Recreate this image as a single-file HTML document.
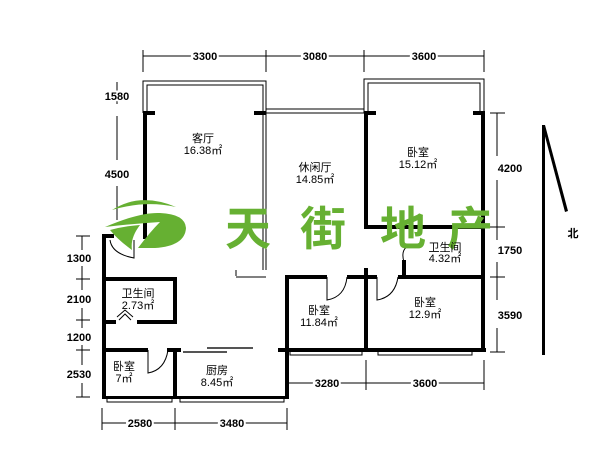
<!DOCTYPE html>
<html><head><meta charset="utf-8"><style>
html,body{margin:0;padding:0;background:#fff;width:600px;height:450px;overflow:hidden}
svg text{font-family:"Liberation Sans","Noto Sans CJK SC",sans-serif;fill:#000}
.d text{paint-order:stroke;stroke:#fff;stroke-width:4px}
</style></head><body>
<svg width="600" height="450" viewBox="0 0 600 450" xmlns="http://www.w3.org/2000/svg">
<g stroke="#000" stroke-width="1" fill="none">
<line x1="143" y1="56" x2="484" y2="56"/>
<line x1="143" y1="50" x2="143" y2="72"/><line x1="266" y1="50" x2="266" y2="72"/>
<line x1="364" y1="50" x2="364" y2="72"/><line x1="484" y1="50" x2="484" y2="72"/>
<path d="M143 113V81H266V270"/><path d="M147 113V85H263V270"/>
<path d="M364 113V79H484V113"/><path d="M368 113V83H480V113"/>
<rect x="266" y="109" width="98" height="4"/>
<line x1="117" y1="82" x2="117" y2="104"/><line x1="117" y1="116" x2="117" y2="160"/><line x1="117" y1="186" x2="117" y2="220"/>
<line x1="82" y1="236" x2="82" y2="250"/><line x1="82" y1="266" x2="82" y2="290"/><line x1="82" y1="308" x2="82" y2="328"/><line x1="82" y1="345" x2="82" y2="365"/><line x1="82" y1="383" x2="82" y2="397"/>
<line x1="76" y1="236" x2="90" y2="236"/><line x1="76" y1="279" x2="90" y2="279"/><line x1="76" y1="320" x2="90" y2="320"/><line x1="76" y1="350" x2="90" y2="350"/><line x1="76" y1="397" x2="90" y2="397"/>
<line x1="497" y1="113" x2="497" y2="156"/><line x1="497" y1="180" x2="497" y2="240"/><line x1="497" y1="262" x2="497" y2="300"/><line x1="497" y1="328" x2="497" y2="352"/>
<line x1="490" y1="113" x2="505" y2="113"/><line x1="490" y1="227" x2="505" y2="227"/><line x1="490" y1="277" x2="505" y2="277"/><line x1="490" y1="352" x2="505" y2="352"/>
<line x1="287" y1="383" x2="484" y2="383"/><line x1="366" y1="360" x2="366" y2="390"/><line x1="484" y1="360" x2="484" y2="390"/>
<line x1="102" y1="423" x2="287" y2="423"/><line x1="102" y1="408" x2="102" y2="430"/><line x1="175" y1="408" x2="175" y2="430"/><line x1="287" y1="408" x2="287" y2="430"/>
<rect x="107" y="397" width="65" height="5"/><rect x="180" y="397" width="104" height="5"/>
<rect x="290" y="350" width="72" height="5"/><rect x="378" y="350" width="94" height="5"/>
<line x1="183" y1="352" x2="227" y2="352" stroke-width="2" stroke="#555"/><line x1="207" y1="348" x2="253" y2="348" stroke-width="2" stroke="#555"/>
<path d="M148 350V373Q165 370 168 350"/><path d="M327 277V300Q345 297 347 277"/>
<path d="M377 277V300Q395 297 398 277"/><path d="M404 262Q398 242 424 244"/>
<path d="M134 240V258Q112 254 110 240"/>
<path d="M117 317L125 310L133 317M119 320L125 314L131 320"/>
<path d="M236 270V276M236 277H266"/>
</g>
<g fill="#000">
<rect x="143" y="111" width="12" height="4"/><rect x="254" y="111" width="12" height="4"/>
<rect x="143" y="111" width="4" height="128"/>
<rect x="102" y="234" width="4" height="165"/><rect x="102" y="234" width="12" height="4"/>
<rect x="102" y="277" width="75" height="4"/><rect x="173" y="277" width="4" height="46"/>
<rect x="102" y="320" width="14" height="4"/><rect x="137" y="320" width="40" height="4"/>
<rect x="102" y="348" width="46" height="4"/><rect x="167" y="348" width="14" height="4"/>
<rect x="173" y="348" width="4" height="51"/><rect x="102" y="396" width="186" height="3"/>
<rect x="285" y="277" width="4" height="122"/><rect x="285" y="275" width="42" height="4"/>
<rect x="347" y="275" width="30" height="4"/><rect x="398" y="275" width="87" height="4"/>
<rect x="278" y="348" width="208" height="4"/>
<rect x="364" y="268" width="4" height="84"/><rect x="481" y="111" width="4" height="241"/>
<rect x="364" y="111" width="4" height="118"/><rect x="364" y="111" width="12" height="4"/><rect x="473" y="111" width="12" height="4"/>
<rect x="364" y="225" width="121" height="4"/><rect x="402" y="260" width="4" height="17"/>
<rect x="542" y="125" width="3" height="230"/>
<polygon points="542,125 545,125 568,211 565,212"/>
</g>
<g fill="#66b032">
<path d="M112 210Q140 192 176 207Q145 200 112 210Z"/>
<path d="M105 227Q140 212 160 213Q185 214 186 228Q185 246 155 248L138 248Q150 232 160 222Q130 224 105 227Z"/>
<path d="M110 230Q125 226 140 225Q130 238 132 250Q118 240 110 230Z"/>
</g>
<g font-weight="bold" font-size="46" text-anchor="middle">
<text x="248" y="245" style="fill:#66b032">天</text><text x="323" y="245" style="fill:#66b032">街</text>
<text x="403" y="245" style="fill:#66b032">地</text><text x="470" y="245" style="fill:#66b032">产</text>
</g>
<g class="d" font-size="11" font-weight="bold" text-anchor="middle">
<text x="205" y="60">3300</text><text x="315" y="60">3080</text><text x="424" y="60">3600</text>
<text x="117" y="100">1580</text><text x="117" y="178">4500</text>
<text x="79" y="262">1300</text><text x="79" y="303">2100</text><text x="79" y="341">1200</text><text x="79" y="378">2530</text>
<text x="510" y="172">4200</text><text x="510" y="254">1750</text><text x="510" y="319">3590</text>
<text x="327" y="387">3280</text><text x="425" y="387">3600</text>
<text x="140" y="427">2580</text><text x="232" y="427">3480</text>
<text x="573" y="237">北</text>
</g>
<g font-size="11" text-anchor="middle">
<text x="203" y="142">客厅</text><text x="203" y="154">16.38㎡</text>
<text x="315" y="171">休闲厅</text><text x="315" y="183">14.85㎡</text>
<text x="418" y="156">卧室</text><text x="418" y="168">15.12㎡</text>
<text x="138" y="297">卫生间</text><text x="138" y="309">2.73㎡</text>
<text x="445" y="251">卫生间</text><text x="445" y="262">4.32㎡</text>
<text x="319" y="314">卧室</text><text x="319" y="326">11.84㎡</text>
<text x="425" y="306">卧室</text><text x="425" y="318">12.9㎡</text>
<text x="124" y="370">卧室</text><text x="124" y="382">7㎡</text>
<text x="217" y="374">厨房</text><text x="217" y="386">8.45㎡</text>
</g>
</svg>
</body></html>
